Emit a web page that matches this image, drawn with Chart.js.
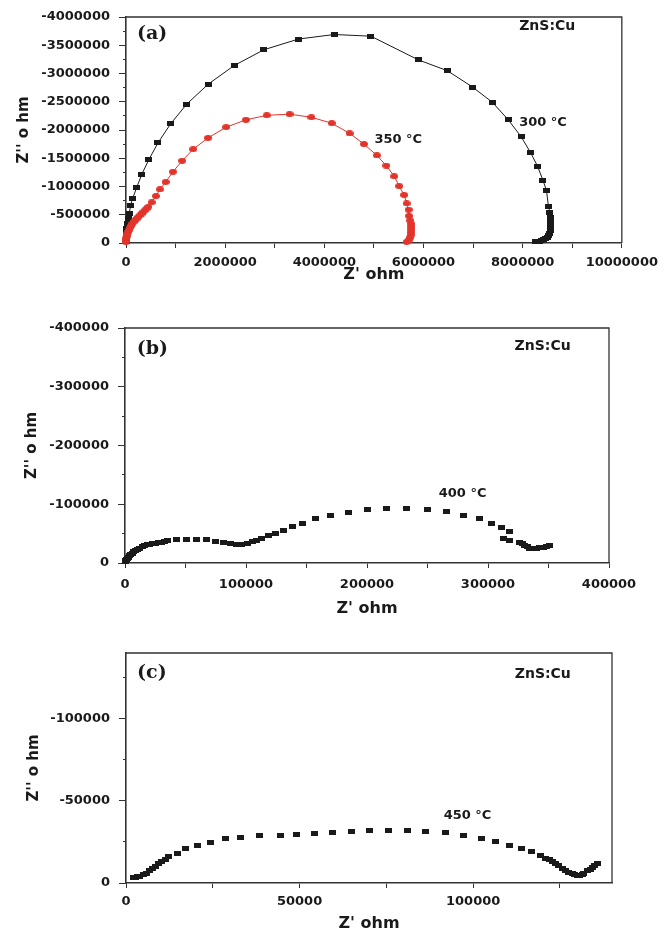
<!DOCTYPE html>
<html><head><meta charset="utf-8">
<script src="https://cdn.jsdelivr.net/npm/chart.js@4"></script>
<style>
html,body{margin:0;padding:0;background:#fff;width:665px;height:933px;overflow:hidden;}
canvas{position:absolute;left:0;}
</style></head><body>
<canvas id="ca" width="665" height="290" style="top:0px"></canvas>
<canvas id="cb" width="665" height="320" style="top:300px"></canvas>
<canvas id="cc" width="665" height="313" style="top:620px"></canvas>
<script>
// ---- Panel (a): 300 °C and 350 °C ----
const zRe300 = [0, 2000, 4000, 6000, 9000, 13000, 18000, 27000, 35000, 47000, 67000, 94000, 134000, 215000, 316000, 457000, 644000, 900000, 1227000, 1656000, 2180000, 2780000, 3480000, 4200000, 4940000, 5900000, 6480000, 6990000, 7390000, 7710000, 7970000, 8160000, 8300000, 8410000, 8480000, 8520000, 8550000, 8565000, 8570000, 8570000, 8565000, 8555000, 8540000, 8520000, 8500000, 8470000, 8430000, 8380000, 8330000, 8260000];
const zIm300 = [-20000, -50000, -80000, -125000, -170000, -215000, -260000, -300000, -340000, -430000, -530000, -670000, -790000, -980000, -1210000, -1470000, -1770000, -2110000, -2460000, -2810000, -3140000, -3420000, -3610000, -3690000, -3660000, -3240000, -3050000, -2760000, -2490000, -2180000, -1880000, -1600000, -1360000, -1110000, -930000, -650000, -540000, -460000, -400000, -340000, -280000, -220000, -170000, -130000, -100000, -75000, -55000, -40000, -28000, -18000];
const zRe350 = [0, 2000, 6000, 13000, 28000, 47000, 63000, 80000, 100000, 127000, 152000, 181000, 215000, 248000, 282000, 316000, 350000, 382000, 415000, 450000, 517000, 604000, 684000, 800000, 946000, 1133000, 1354000, 1656000, 2020000, 2420000, 2840000, 3300000, 3740000, 4150000, 4510000, 4800000, 5060000, 5250000, 5410000, 5510000, 5610000, 5660000, 5700000, 5710000, 5730000, 5750000, 5755000, 5755000, 5750000, 5740000, 5720000, 5700000, 5660000];
const zIm350 = [-20000, -50000, -85000, -120000, -160000, -195000, -230000, -270000, -300000, -340000, -370000, -400000, -430000, -460000, -490000, -520000, -550000, -580000, -610000, -640000, -720000, -830000, -950000, -1080000, -1260000, -1455000, -1660000, -1860000, -2050000, -2180000, -2260000, -2280000, -2225000, -2120000, -1940000, -1750000, -1550000, -1370000, -1180000, -1006000, -850000, -700000, -590000, -480000, -400000, -340000, -290000, -240000, -190000, -140000, -90000, -50000, -20000];
const xTicksA = [0, 1000000, 2000000, 3000000, 4000000, 5000000, 6000000, 7000000, 8000000, 9000000, 10000000];
const xLabelsA = [0, 2000000, 4000000, 6000000, 8000000, 10000000];
const yTicksA = [-4000000, -3750000, -3500000, -3250000, -3000000, -2750000, -2500000, -2250000, -2000000, -1750000, -1500000, -1250000, -1000000, -750000, -500000, -250000, 0];
const yLabelsA = [-4000000, -3500000, -3000000, -2500000, -2000000, -1500000, -1000000, -500000, 0];

// ---- Panel (b): 400 °C ----
const zRe400 = [300, 600, 1200, 1800, 2800, 3800, 4900, 6000, 7300, 8800, 10400, 12100, 14100, 16200, 18200, 20300, 22800, 25300, 27600, 30000, 32700, 35500, 42500, 50700, 59000, 67300, 75000, 81600, 87000, 92000, 96500, 101000, 105000, 108600, 112700, 118200, 124500, 131200, 138300, 146600, 157600, 170000, 184300, 200300, 216000, 233000, 249900, 265600, 279900, 293000, 302500, 311000, 317400, 313000, 317400, 326200, 328500, 330300, 332500, 334500, 337200, 340000, 342700, 345500, 348000, 351000];
const zIm400 = [-3000, -4500, -6500, -8000, -10000, -12500, -15000, -17000, -19300, -21500, -23500, -25500, -27500, -29500, -30800, -31800, -33000, -34000, -35000, -35700, -37000, -38500, -40800, -40800, -40800, -39700, -36800, -35000, -33000, -31600, -31500, -33200, -35800, -38500, -42500, -46500, -51000, -55500, -61300, -68000, -74900, -80500, -86800, -90700, -93600, -93600, -91900, -87900, -81700, -74900, -68000, -59600, -52800, -42500, -38000, -35700, -33000, -30000, -27500, -25500, -25500, -25500, -26500, -27200, -28300, -29400];
const xTicksB = [0, 50000, 100000, 150000, 200000, 250000, 300000, 350000, 400000];
const xLabelsB = [0, 100000, 200000, 300000, 400000];
const yTicksB = [-400000, -350000, -300000, -250000, -200000, -150000, -100000, -50000, 0];
const yLabelsB = [-400000, -300000, -200000, -100000, 0];

// ---- Panel (c): 450 °C ----
const zRe450 = [2100, 2600, 3200, 4000, 5000, 5900, 6900, 7600, 8400, 9300, 10300, 11300, 12300, 14700, 17100, 20500, 24300, 28700, 33000, 38600, 44400, 49200, 54200, 59400, 64900, 70200, 75500, 81000, 86400, 91900, 97200, 102500, 106300, 110500, 113800, 116700, 119400, 120800, 122000, 122800, 123800, 124700, 125600, 126600, 127600, 128500, 129300, 130000, 130700, 131400, 131900, 132900, 133800, 134300, 135000, 135800];
const zIm450 = [-3600, -3600, -3800, -4200, -5000, -6000, -7700, -8800, -10100, -11600, -13100, -14600, -16200, -18200, -20700, -22700, -24900, -26800, -28000, -28800, -28800, -29400, -30200, -30800, -31400, -31800, -32000, -31800, -31200, -30600, -28800, -27100, -25300, -22900, -20700, -18900, -16600, -15200, -14200, -13100, -11800, -10500, -9100, -7700, -6400, -5700, -5000, -4400, -4600, -5200, -5700, -7700, -8500, -9700, -10800, -12000];
const xTicksC = [0, 25000, 50000, 75000, 100000, 125000];
const xLabelsC = [0, 50000, 100000];
const yTicksC = [-125000, -100000, -75000, -50000, -25000, 0];
const yLabelsC = [-100000, -50000, 0];

const xTitle = "Z' ohm";
const yTitle = "Z'' o hm";
const sampleLabel = "ZnS:Cu";

const INK = '#1a1a1a';
const RED = '#e3342b';
Chart.defaults.font.family = "'DejaVu Sans', sans-serif";
Chart.defaults.font.weight = 'bold';
Chart.defaults.color = INK;

function rectImg(w, h, color) {
  const c = document.createElement('canvas'); c.width = w; c.height = h;
  const g = c.getContext('2d'); g.fillStyle = color; g.fillRect(0, 0, w, h); return c;
}
function ellImg(w, h, color) {
  const c = document.createElement('canvas'); c.width = w; c.height = h;
  const g = c.getContext('2d'); g.fillStyle = color; g.beginPath();
  g.ellipse(w / 2, h / 2, w / 2, h / 2, 0, 0, Math.PI * 2); g.fill(); return c;
}
const sq = rectImg(7, 5, INK);
const dot = ellImg(8, 6, RED);

function pts(xs, ys) { return xs.map((x, i) => ({ x: x, y: ys[i] })); }

const framePlugin = {
  id: 'frame',
  beforeDatasetsDraw(chart) {
    const { ctx, chartArea: a } = chart;
    ctx.save();
    ctx.strokeStyle = '#333'; ctx.lineWidth = 1.3;
    ctx.beginPath();
    ctx.moveTo(a.left, a.top); ctx.lineTo(a.right, a.top); ctx.lineTo(a.right, a.bottom);
    ctx.stroke();
    ctx.restore();
  },
  afterDraw(chart, args, opts) {
    const { ctx } = chart;
    ctx.save();
    ctx.fillStyle = INK; ctx.textBaseline = 'middle'; ctx.textAlign = 'left';
    (opts.labels || []).forEach(l => {
      ctx.font = l.font;
      ctx.fillText(l.text, chart.scales.x.getPixelForValue(l.x), chart.scales.y.getPixelForValue(l.y));
    });
    ctx.restore();
  }
};

function axis(min, max, tickVals, labelVals, pad, tl) {
  return {
    type: 'linear', min: min, max: max,
    grid: {
      drawOnChartArea: false, drawTicks: true, tickLength: tl, color: '#333', tickColor: '#333', lineWidth: 1,
      tickBorderDash: [tl, 100],
      tickBorderDashOffset: c => (c.tick && labelVals.indexOf(c.tick.value) < 0 ? 100 + Math.round(tl * 0.45) : 0)
    },
    border: { display: true, color: '#333', width: 1.6 },
    afterBuildTicks: s => { s.ticks = tickVals.map(v => ({ value: v })); },
    ticks: {
      autoSkip: false, maxRotation: 0, minRotation: 0, padding: pad,
      font: { size: 13, weight: 'bold', family: "'DejaVu Sans', sans-serif" }, color: INK,
      callback: v => (labelVals.indexOf(v) >= 0 ? String(v) : '')
    }
  };
}

function ds(label, xs, ys, img, line, color) {
  return {
    label: label, data: pts(xs, ys), showLine: line, borderColor: color, borderWidth: 1,
    pointStyle: img, pointRadius: 4, pointHoverRadius: 4, clip: false, tension: 0
  };
}

function build(id, datasets, sc, layout, labels) {
  const xa = axis(sc.xmin, sc.xmax, sc.xt, sc.xt, layout.xpad, 5);
  xa.ticks.callback = v => (sc.xl.indexOf(v) >= 0 ? String(v) : '');
  xa.afterFit = s => { s.height = layout.xh; };
  xa.title = { display: true, text: xTitle, font: { size: 16, weight: 'bold' }, color: INK, padding: { top: 0, bottom: layout.xtp } };
  const ya = axis(sc.ymin, sc.ymax, sc.yt, sc.yl, 9, 7);
  ya.reverse = true;
  ya.afterFit = s => { s.width = layout.left; };
  ya.title = { display: true, text: yTitle, font: { size: 15, weight: 'bold' }, color: INK, padding: { top: layout.ytp, bottom: 0 } };
  new Chart(document.getElementById(id), {
    type: 'scatter',
    data: { datasets: datasets },
    options: {
      responsive: false, animation: false, events: [],
      layout: { padding: { left: 0, top: layout.top, right: layout.right, bottom: 0 } },
      plugins: { legend: { display: false }, tooltip: { enabled: false }, frame: { labels: labels } },
      scales: { x: xa, y: ya }
    },
    plugins: [framePlugin]
  });
}

const serif = "bold 19px 'DejaVu Serif', serif";
const sansL = "bold 14px 'DejaVu Sans', sans-serif";
const sansT = "bold 13px 'DejaVu Sans', sans-serif";

build('ca', [
  ds('350 °C', zRe350, zIm350, dot, true, RED),
  ds('300 °C', zRe300, zIm300, sq, true, INK)
], { xmin: 0, xmax: 10000000, xt: xTicksA, xl: xLabelsA, ymin: -4000000, ymax: 0, yt: yTicksA, yl: yLabelsA },
{ top: 17, right: 42, left: 126, xh: 47, xtp: 6, ytp: 15, xpad: 7 },
[
  { text: '(a)', x: 220000, y: -3690000, font: serif },
  { text: sampleLabel, x: 7930000, y: -3840000, font: sansL },
  { text: '300 °C', x: 7930000, y: -2130000, font: sansT },
  { text: '350 °C', x: 5010000, y: -1830000, font: sansT }
]);

build('cb', [
  ds('400 °C', zRe400, zIm400, sq, false, INK)
], { xmin: 0, xmax: 400000, xt: xTicksB, xl: xLabelsB, ymin: -400000, ymax: 0, yt: yTicksB, yl: yLabelsB },
{ top: 28, right: 56, left: 125, xh: 57, xtp: 2, ytp: 23, xpad: 9 },
[
  { text: '(b)', x: 9700, y: -364800, font: serif },
  { text: sampleLabel, x: 322000, y: -369000, font: sansL },
  { text: '400 °C', x: 259300, y: -118000, font: sansT }
]);

build('cc', [
  ds('450 °C', zRe450, zIm450, sq, false, INK)
], { xmin: 0, xmax: 140000, xt: xTicksC, xl: xLabelsC, ymin: -140000, ymax: 0, yt: yTicksC, yl: yLabelsC },
{ top: 33, right: 53, left: 126, xh: 50, xtp: 0, ytp: 25, xpad: 6 },
[
  { text: '(c)', x: 3200, y: -127900, font: serif },
  { text: sampleLabel, x: 112000, y: -126700, font: sansL },
  { text: '450 °C', x: 91500, y: -40900, font: sansT }
]);
</script>
</body></html>
